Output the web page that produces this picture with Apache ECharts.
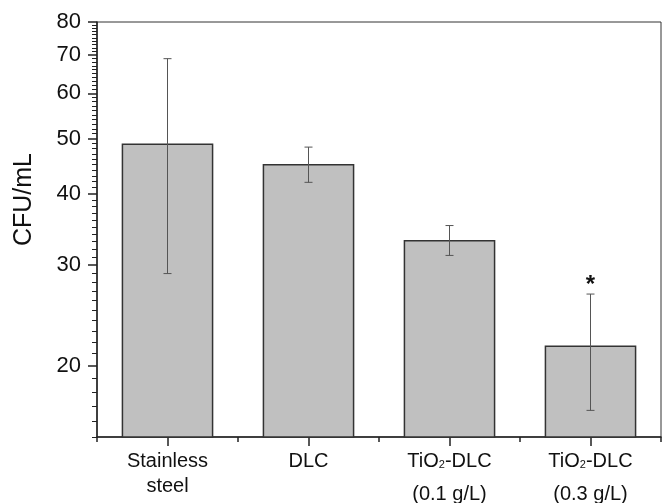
<!DOCTYPE html>
<html>
<head>
<meta charset="utf-8">
<script src="https://cdn.jsdelivr.net/npm/echarts@6/dist/echarts.min.js"></script>
<style>
  html, body { margin: 0; padding: 0; background: #fff; }
  #chart { width: 662px; height: 503px; }
</style>
</head>
<body>
<div id="chart"></div>
<script>
// ---- data ----
const categories = ['Stainless\nsteel', 'DLC', 'TiO2-DLC\n(0.1 g/L)', 'TiO2-DLC\n(0.3 g/L)'];
const meanCFU = [49.0, 45.1, 33.2, 21.7];
const sdCFU = [20.0, 3.2, 2.0, 5.0];
const significance = ['', '', '', '*'];
const yTickLabels = [20, 30, 40, 50, 60, 70, 80];
const yMin = 15;
const yMax = 80;

// ---- helpers ----
const lg = v => Math.log10(v);
const minorTicks = [];
for (let v = yMin; v <= yMax; v++) {
  if (yTickLabels.indexOf(v) < 0) minorTicks.push(lg(v));
}
const FONT = '"Liberation Sans", Arial, Helvetica, sans-serif';

function catFormatter(value) {
  const lines = value.split('\n');
  const hasSub = value.indexOf('TiO2') >= 0;
  return lines.map((ln, k) => {
    const st = (k === 1 && hasSub) ? 'b' : 'a';
    if (ln.indexOf('TiO2') === 0) {
      return '{' + st + '|TiO}{s|2}{' + st + '|' + ln.slice(4) + '}';
    }
    return '{' + st + '|' + ln + '}';
  }).join('\n');
}

const chart = echarts.init(document.getElementById('chart'), null, { renderer: 'canvas' });

const option = {
  animation: false,
  backgroundColor: '#ffffff',
  grid: {
    left: 97, right: 1, top: 22, bottom: 66,
    containLabel: false,
    outerBoundsMode: 'none',
    show: true, borderColor: '#333', borderWidth: 1, backgroundColor: 'transparent'
  },
  xAxis: [
    {
      type: 'category',
      data: categories,
      boundaryGap: true,
      position: 'bottom',
      axisLine: { show: true, lineStyle: { color: '#222', width: 1.5 } },
      axisTick: { show: true, length: 5, lineStyle: { color: '#222', width: 1.5 } },
      axisLabel: {
        margin: 12,
        color: '#111',
        fontFamily: FONT,
        formatter: catFormatter,
        rich: {
          a: { fontSize: 20, lineHeight: 25, fontFamily: FONT, color: '#111' },
          b: { fontSize: 20, lineHeight: 40, fontFamily: FONT, color: '#111' },
          s: { fontSize: 11, lineHeight: 11, padding: [7, 0, 0, 0], fontFamily: FONT, color: '#111' }
        }
      },
      splitLine: { show: false }
    },
    {
      type: 'category',
      data: categories,
      boundaryGap: true,
      position: 'bottom',
      axisLine: { show: false },
      axisTick: { show: true, alignWithLabel: true, length: 9, lineStyle: { color: '#222', width: 1.5 } },
      axisLabel: { show: false },
      splitLine: { show: false }
    }
  ],
  yAxis: [
    {
      type: 'value',
      min: lg(yMin),
      max: lg(yMax),
      position: 'left',
      name: 'CFU/mL',
      nameLocation: 'middle',
      nameGap: 60,
      nameTextStyle: { fontSize: 25, fontFamily: FONT, color: '#111', padding: [0, 0, 0, 60] },
      axisLine: { show: true, lineStyle: { color: '#222', width: 1.5 } },
      axisTick: {
        show: true, length: 9,
        customValues: yTickLabels.map(lg),
        lineStyle: { color: '#222', width: 1.5 }
      },
      axisLabel: {
        margin: 16,
        fontSize: 22,
        fontFamily: FONT,
        color: '#111',
        customValues: yTickLabels.map(lg),
        formatter: v => String(Math.round(Math.pow(10, v)))
      },
      splitLine: { show: false }
    },
    {
      type: 'value',
      min: lg(yMin),
      max: lg(yMax),
      position: 'left',
      axisLine: { show: false },
      axisTick: {
        show: true, length: 5,
        customValues: minorTicks,
        lineStyle: { color: '#222', width: 1 }
      },
      axisLabel: { show: false },
      splitLine: { show: false }
    }
  ],
  series: [
    {
      type: 'bar',
      xAxisIndex: 0,
      yAxisIndex: 0,
      barWidth: '65%',
      data: meanCFU.map(lg),
      itemStyle: { color: '#c0c0c0', borderColor: '#333', borderWidth: 1.5 },
      clip: true
    },
    {
      type: 'custom',
      xAxisIndex: 0,
      yAxisIndex: 0,
      data: meanCFU.map((m, i) => [i, lg(m - sdCFU[i]), lg(m + sdCFU[i])]),
      renderItem: function (params, api) {
        const top = api.coord([api.value(0), api.value(2)]);
        const bot = api.coord([api.value(0), api.value(1)]);
        const x = top[0];
        const w = 4;
        const st = { stroke: '#555', lineWidth: 1 };
        const children = [
          { type: 'line', shape: { x1: x, y1: top[1], x2: x, y2: bot[1] }, style: st },
          { type: 'line', shape: { x1: x - w, y1: top[1], x2: x + w, y2: top[1] }, style: st },
          { type: 'line', shape: { x1: x - w, y1: bot[1], x2: x + w, y2: bot[1] }, style: st }
        ];
        const sig = significance[params.dataIndex];
        if (sig) {
          children.push({
            type: 'text', x: x, y: top[1] - 9,
            style: {
              text: sig, fontSize: 24, fontWeight: 'bold', fontFamily: FONT,
              fill: '#111', align: 'center', verticalAlign: 'middle'
            }
          });
        }
        return { type: 'group', children: children };
      },
      z: 5
    }
  ]
};

chart.setOption(option);
</script>
</body>
</html>
